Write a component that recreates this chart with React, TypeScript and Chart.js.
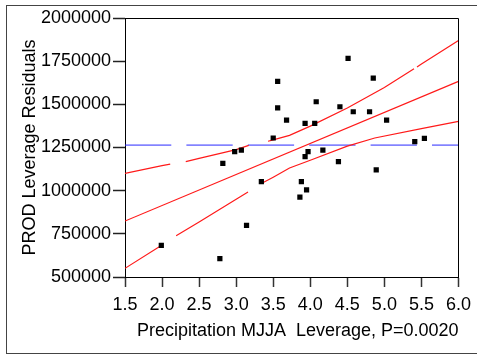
import React, { useEffect, useRef } from "react";
import { Chart, registerables } from "chart.js";

Chart.register(...registerables);

// Observations (Precipitation MJJA leverage vs PROD leverage residuals)
const precipLeverage = [
  1.99, 2.78, 2.82, 2.98, 3.07, 3.14, 3.34, 3.5, 3.56, 3.56, 3.68, 3.86, 3.88, 3.93, 3.93,
  3.95, 3.97, 4.06, 4.08, 4.17, 4.38, 4.4, 4.51, 4.58, 4.8, 4.85, 4.89, 5.03, 5.41, 5.54,
];
const prodResiduals = [
  683000, 606000, 1158000, 1226000, 1235000, 799000, 1052000, 1305000, 1633000, 1479000,
  1409000, 963000, 1052000, 1390000, 1197000, 1004000, 1226000, 1390000, 1515000, 1235000,
  1168000, 1486000, 1766000, 1457000, 1457000, 1652000, 1120000, 1409000, 1284000, 1303000,
];

// Fitted line
const fitX = [1.5, 6.0];
const fitY = [824000, 1633000];

// Upper confidence curve (null = gap in the drawn curve)
const upperX = [1.5, 2.0, 2.11, 2.2, 2.32, 2.5, 3.0, 3.17, 3.3, 3.43, 3.5, 3.72, 4.0, 4.5, 5.0, 5.4, 5.42, 5.44, 5.5, 6.0];
const upperY = [1100000, 1145000, 1154000, null, 1168000, 1187000, 1238000, 1262000, null, 1286000, 1294000, 1320000, 1374000, 1479000, 1597000, 1706000, null, 1716000, 1733000, 1870000];

// Lower confidence curve
const lowerX = [1.5, 2.0, 2.1, 2.19, 2.5, 3.0, 3.16, 3.25, 3.34, 3.5, 3.72, 4.0, 4.5, 4.87, 5.5, 6.0];
const lowerY = [550000, 685000, null, 739000, 819000, 950000, 992000, null, 1041000, 1078000, 1131000, 1176000, 1258000, 1305000, 1359000, 1401000];

// Mean reference line
const meanX = [1.5, 6.0];
const meanY = [1264000, 1264000];

const xTitle = "Precipitation MJJA  Leverage, P=0.0020";
const yTitle = "PROD Leverage Residuals";

const FONT = "'Liberation Sans', Arial, sans-serif";

const pts = (xs: number[], ys: (number | null)[]) => xs.map((x, i) => ({ x, y: ys[i] }));

const framePlugin = {
  id: "frame",
  beforeDraw(chart: any) {
    const ctx = chart.ctx;
    ctx.save();
    ctx.fillStyle = "#ffffff";
    ctx.fillRect(0, 0, chart.width, chart.height);
    ctx.fillStyle = "#444444";
    ctx.fillRect(6, 5, 1, 349);
    ctx.fillRect(6, 5, 471, 1);
    ctx.fillRect(6, 353, 471, 1);
    ctx.restore();
  },
  afterDraw(chart: any) {
    const { ctx, chartArea } = chart;
    ctx.save();
    ctx.strokeStyle = "#000000";
    ctx.lineWidth = 1;
    ctx.beginPath();
    ctx.moveTo(chartArea.left, Math.round(chartArea.top) + 0.5);
    ctx.lineTo(Math.round(chartArea.right) + 0.5, Math.round(chartArea.top) + 0.5);
    ctx.lineTo(Math.round(chartArea.right) + 0.5, chartArea.bottom);
    ctx.stroke();
    ctx.fillStyle = "#000000";
    ctx.font = `18px ${FONT}`;
    ctx.textAlign = "center";
    ctx.textBaseline = "alphabetic";
    const cx = (chartArea.left + chartArea.right) / 2 + 6;
    ctx.fillText(xTitle, cx, 336);
    ctx.translate(34.5, (chartArea.top + chartArea.bottom) / 2);
    ctx.rotate(-Math.PI / 2);
    ctx.fillText(yTitle, 0, 0);
    ctx.restore();
  },
};

export default function App() {
  const ref = useRef<HTMLCanvasElement | null>(null);

  useEffect(() => {
    document.body.style.margin = "0";
    if (!ref.current) return;
    const chart = new Chart(ref.current, {
      type: "scatter",
      data: {
        datasets: [
          {
            label: "Residuals",
            data: pts(precipLeverage, prodResiduals),
            pointStyle: "rect",
            pointRadius: 3.7,
            pointBorderWidth: 0,
            backgroundColor: "#000000",
            borderColor: "#000000",
            showLine: false,
          },
          {
            label: "Fit",
            data: pts(fitX, fitY),
            showLine: true,
            pointRadius: 0,
            borderColor: "#ff1a1a",
            borderWidth: 1.2,
          },
          {
            label: "Upper",
            data: pts(upperX, upperY),
            showLine: true,
            spanGaps: false,
            pointRadius: 0,
            borderColor: "#ff1a1a",
            borderWidth: 1.2,
          },
          {
            label: "Lower",
            data: pts(lowerX, lowerY),
            showLine: true,
            spanGaps: false,
            pointRadius: 0,
            borderColor: "#ff1a1a",
            borderWidth: 1.2,
          },
          {
            label: "Mean",
            data: pts(meanX, meanY),
            showLine: true,
            pointRadius: 0,
            borderColor: "#2a2aff",
            borderWidth: 1,
            borderDash: [46.3, 15.1],
          },
        ],
      },
      options: {
        animation: false,
        responsive: false,
        devicePixelRatio: 1,
        layout: { padding: { left: 0, top: 18, right: 19, bottom: 0 } },
        plugins: { legend: { display: false }, tooltip: { enabled: false } },
        scales: {
          x: {
            type: "linear",
            min: 1.5,
            max: 6.0,
            afterFit(scale: any) {
              scale.height = 78;
            },
            ticks: {
              stepSize: 0.5,
              autoSkip: false,
              maxRotation: 0,
              padding: 7,
              color: "#000000",
              font: { family: FONT, size: 18 },
              callback: (v: any) => Number(v).toFixed(1),
            },
            grid: {
              drawOnChartArea: false,
              drawTicks: true,
              tickLength: 10,
              tickColor: "#333333",
              tickWidth: 1.5,
            },
            border: { display: true, color: "#000000", width: 1 },
          },
          y: {
            type: "linear",
            min: 500000,
            max: 2000000,
            afterFit(scale: any) {
              scale.width = 125;
            },
            ticks: {
              stepSize: 250000,
              autoSkip: false,
              padding: 2,
              color: "#000000",
              font: { family: FONT, size: 18 },
              callback: (v: any) => String(v),
            },
            grid: {
              drawOnChartArea: false,
              drawTicks: true,
              tickLength: 12,
              tickColor: "#222222",
              tickWidth: 1.5,
            },
            border: { display: true, color: "#000000", width: 1 },
          },
        },
      },
      plugins: [framePlugin],
    });
    return () => chart.destroy();
  }, []);

  return <canvas ref={ref} width={478} height={355} style={{ display: "block", width: 478, height: 355 }} />;
}
